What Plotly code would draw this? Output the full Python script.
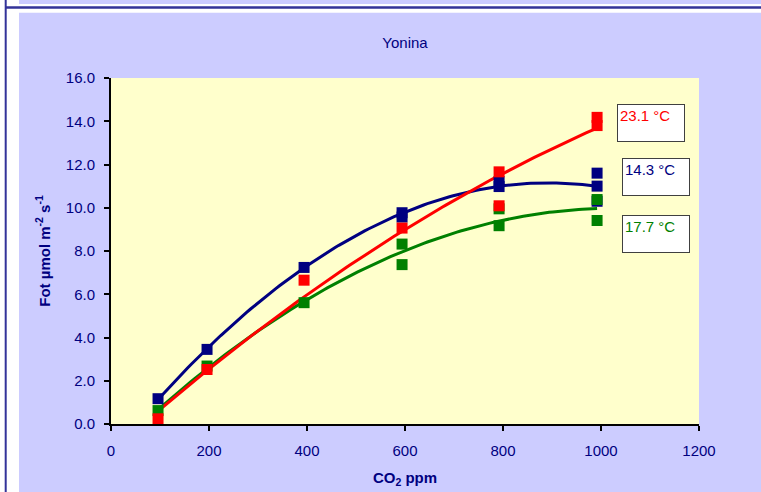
import numpy as np
import plotly.graph_objects as go

# CO2 concentration (ppm) and photosynthesis rate (µmol m-2 s-1) per temperature
co2_14 = [96, 196, 394, 594, 594, 792, 792, 992, 992, 992]
fot_14 = [1.17, 3.45, 7.24, 9.77, 9.57, 11.21, 10.98, 11.60, 11.00, 10.30]

co2_23 = [96, 196, 394, 594, 792, 792, 992, 992]
fot_23 = [0.24, 2.52, 6.65, 9.06, 11.66, 10.09, 14.18, 13.80]

co2_17 = [96, 196, 394, 594, 594, 792, 792, 992, 992]
fot_17 = [0.62, 2.68, 5.61, 8.32, 7.37, 9.95, 9.17, 10.38, 9.41]

series = [
    ("14.3 °C", co2_14, fot_14, "#000080"),
    ("17.7 °C", co2_17, fot_17, "#008000"),
    ("23.1 °C", co2_23, fot_23, "#FF0000"),
]

x_ticks = [0, 200, 400, 600, 800, 1000, 1200]
y_ticks = [0, 2, 4, 6, 8, 10, 12, 14, 16]

W, H = 761, 492
L, R, T, B = 111, 62, 78, 68
PW, PH = W - L - R, H - T - B

FONT = "Arial, Liberation Sans, sans-serif"
NAVY = "#000080"
LAV = "#CCCCFF"
FRAME = "#333399"


def px_x(p):
    return (p - L) / PW


def px_y(p):
    return (H - B - p) / PH


fig = go.Figure()

for name, xs, ys, col in series:
    # second-order polynomial trendline over the measured range
    coef = np.polyfit(xs, ys, 2)
    xf = np.linspace(min(xs), max(xs), 120)
    fig.add_trace(go.Scatter(x=xf, y=np.polyval(coef, xf), mode="lines",
                             line=dict(color=col, width=3), hoverinfo="skip",
                             showlegend=False))

for name, xs, ys, col in series:
    fig.add_trace(go.Scatter(x=xs, y=ys, mode="markers", name=name,
                             marker=dict(symbol="square", size=11, color=col,
                                         line=dict(width=0)),
                             showlegend=False))

# page frame around the chart
shapes = [
    dict(type="rect", xref="paper", yref="paper", x0=px_x(0), x1=px_x(19),
         y0=px_y(H), y1=px_y(0), fillcolor="white", line_width=0, layer="below"),
    dict(type="rect", xref="paper", yref="paper", x0=px_x(19), x1=px_x(W),
         y0=px_y(12.7), y1=px_y(4), fillcolor="white", line_width=0, layer="below"),
    dict(type="rect", xref="paper", yref="paper", x0=px_x(6), x1=px_x(W),
         y0=px_y(8.7), y1=px_y(6.3), fillcolor=FRAME, line_width=0, layer="below"),
    dict(type="rect", xref="paper", yref="paper", x0=px_x(4.7), x1=px_x(6.7),
         y0=px_y(H), y1=px_y(0), fillcolor=FRAME, line_width=0, layer="below"),
]

# temperature labels in boxes
labels = [
    ("23.1 °C", "#FF0000", 617, 104),
    ("14.3 °C", NAVY, 622, 158),
    ("17.7 °C", "#008000", 622, 215),
]
annotations = []
for text, col, bx, by in labels:
    annotations.append(dict(
        text=text, xref="paper", yref="paper", x=px_x(bx), y=px_y(by),
        xanchor="left", yanchor="top", showarrow=False,
        font=dict(family=FONT, size=15, color=col),
        align="left", valign="top", width=62, height=32, borderpad=2,
        bgcolor="white", bordercolor="#404040", borderwidth=1))

fig.update_layout(
    width=W, height=H,
    margin=dict(l=L, r=R, t=T, b=B, pad=0),
    paper_bgcolor=LAV,
    plot_bgcolor="#FFFFCC",
    font=dict(family=FONT, size=15, color=NAVY),
    title=dict(text="Yonina", x=0.5, xref="paper", xanchor="center",
               y=1 - 43 / H, yref="container", yanchor="middle",
               font=dict(family=FONT, size=15, color=NAVY)),
    shapes=shapes,
    annotations=annotations,
    showlegend=False,
)

fig.update_xaxes(
    range=[0, 1200], tickvals=x_ticks, ticktext=[str(v) for v in x_ticks],
    showgrid=False, zeroline=False, showline=True, linecolor="black", linewidth=2,
    ticks="outside", ticklen=5, tickwidth=2, tickcolor="black",
    tickfont=dict(family=FONT, size=15, color=NAVY), ticklabelstandoff=7,
    automargin=False,
    title=dict(text="<b>CO<sub>2</sub> ppm</b>", standoff=14,
               font=dict(family=FONT, size=15, color=NAVY)),
)
fig.update_yaxes(
    range=[0, 16], tickvals=y_ticks, ticktext=[f"{v:.1f}" for v in y_ticks],
    showgrid=False, zeroline=False, showline=True, linecolor="black", linewidth=2,
    ticks="outside", ticklen=5, tickwidth=2, tickcolor="black",
    tickfont=dict(family=FONT, size=15, color=NAVY), ticklabelstandoff=6,
    automargin=False,
    title=dict(text="<b>Fot µmol m<sup>-2</sup> s<sup>-1</sup></b>", standoff=12,
               font=dict(family=FONT, size=15, color=NAVY)),
)

fig.write_html("out.html")
